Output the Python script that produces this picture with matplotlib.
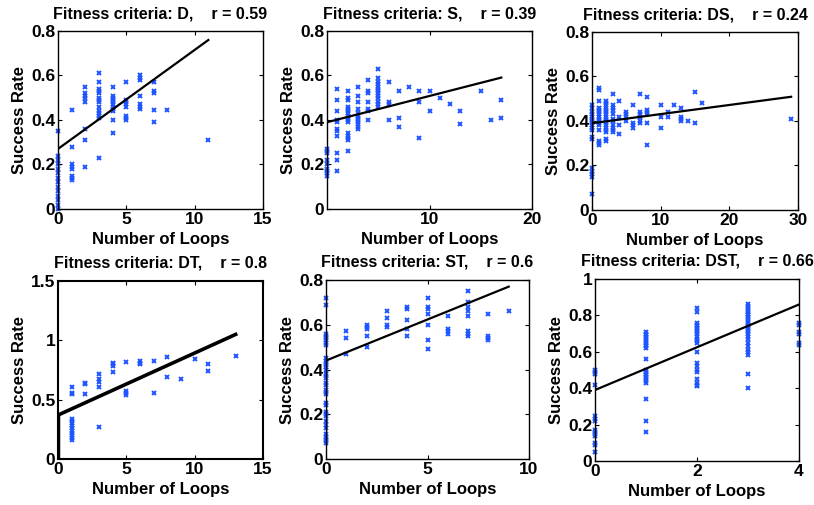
import numpy as np
import matplotlib
matplotlib.use("Agg")
import matplotlib.pyplot as plt
from matplotlib.ticker import FuncFormatter

plt.rcParams['font.family'] = ['Liberation Sans', 'DejaVu Sans']
plt.rcParams['font.weight'] = 'bold'

# ---- data (loops, success rate) ----
# D, r = 0.59
d_x = [0]*14 + [1]*8 + [2]*8 + [3]*14 + [4]*11 + [5]*8 + [6]*7 + [7]*5 + [8, 11]
d_y = [0.0, 0.02, 0.04, 0.06, 0.08, 0.10, 0.12, 0.14, 0.16, 0.18, 0.20, 0.22, 0.24, 0.35,
       0.445, 0.28, 0.20, 0.19, 0.18, 0.15, 0.14, 0.13,
       0.55, 0.52, 0.51, 0.50, 0.48, 0.36, 0.31, 0.19,
       0.61, 0.57, 0.54, 0.53, 0.52, 0.50, 0.49, 0.48, 0.46, 0.44, 0.43, 0.42, 0.41, 0.23,
       0.55, 0.51, 0.50, 0.49, 0.48, 0.47, 0.46, 0.45, 0.44, 0.40, 0.34,
       0.57, 0.49, 0.48, 0.47, 0.46, 0.42, 0.41, 0.40,
       0.60, 0.59, 0.58, 0.51, 0.47, 0.46, 0.45,
       0.57, 0.53, 0.52, 0.445, 0.39,
       0.445, 0.31]
d_fit = (0.27, 0.0445)

# S, r = 0.39
s_x = ([0]*9 + [1]*11 + [2]*16 + [3]*12 + [4]*7 + [5]*13 + [6]*4 + [7]*3 + [8] + [9]*3
       + [10]*2 + [11, 12] + [13]*2 + [15, 16] + [17]*2)
s_y = [0.27, 0.26, 0.25, 0.22, 0.20, 0.18, 0.17, 0.16, 0.15,
       0.54, 0.49, 0.44, 0.40, 0.39, 0.36, 0.35, 0.33, 0.25, 0.22, 0.17,
       0.53, 0.50, 0.49, 0.46, 0.45, 0.44, 0.43, 0.42, 0.41, 0.40, 0.39, 0.34, 0.33, 0.32, 0.31, 0.26,
       0.55, 0.51, 0.48, 0.45, 0.43, 0.42, 0.41, 0.40, 0.39, 0.38, 0.37, 0.36,
       0.58, 0.53, 0.52, 0.48, 0.45, 0.44, 0.40,
       0.63, 0.59, 0.57, 0.56, 0.55, 0.54, 0.53, 0.52, 0.51, 0.50, 0.48, 0.47, 0.46,
       0.57, 0.48, 0.47, 0.40,
       0.53, 0.41, 0.37,
       0.55,
       0.53, 0.48, 0.32,
       0.53, 0.44,
       0.50, 0.47,
       0.44, 0.38,
       0.53, 0.40,
       0.49, 0.41]
s_fit = (0.39, 0.0118)

# DS, r = 0.24
ds_x = ([0]*18 + [1]*16 + [2]*17 + [3]*11 + [4]*4 + [5]*4 + [6]*4 + [7]*6 + [8]*6
        + [10]*3 + [11]*2 + [12] + [13]*4 + [14] + [15]*2 + [16, 29])
ds_y = [0.47, 0.46, 0.44, 0.43, 0.42, 0.41, 0.40, 0.39, 0.38, 0.37, 0.36, 0.33, 0.32, 0.19, 0.17, 0.16, 0.15, 0.07,
        0.55, 0.54, 0.49, 0.46, 0.45, 0.44, 0.43, 0.42, 0.41, 0.40, 0.39, 0.38, 0.36, 0.31, 0.30, 0.29,
        0.49, 0.48, 0.47, 0.46, 0.45, 0.44, 0.43, 0.42, 0.41, 0.40, 0.39, 0.38, 0.37, 0.36, 0.35, 0.32, 0.31,
        0.52, 0.47, 0.46, 0.45, 0.43, 0.41, 0.40, 0.38, 0.37, 0.36, 0.35,
        0.49, 0.42, 0.38, 0.34,
        0.44, 0.43, 0.42, 0.40,
        0.47, 0.39, 0.38, 0.37,
        0.52, 0.44, 0.43, 0.42, 0.40, 0.39,
        0.51, 0.45, 0.44, 0.43, 0.39, 0.29,
        0.47, 0.42, 0.37,
        0.44, 0.42,
        0.47,
        0.46, 0.42, 0.41, 0.40,
        0.40,
        0.53, 0.39,
        0.48, 0.41]
ds_fit = (0.39, 0.0041)

# DT, r = 0.8
dt_x = [1]*13 + [2]*3 + [3]*5 + [4]*4 + [5]*4 + [6]*3 + [7]*2 + [8]*2 + [9, 10] + [11]*2 + [13]
dt_y = [0.61, 0.56, 0.55, 0.34, 0.32, 0.30, 0.28, 0.26, 0.24, 0.22, 0.20, 0.18, 0.16,
        0.64, 0.63, 0.55,
        0.72, 0.67, 0.65, 0.61, 0.27,
        0.81, 0.80, 0.78, 0.73,
        0.82, 0.57, 0.56, 0.54,
        0.83, 0.81, 0.80,
        0.83, 0.56,
        0.86, 0.69,
        0.67, 0.84,
        0.80, 0.74,
        0.87]
dt_fit = (0.37, 0.0523)

# ST, r = 0.6
st_x = [0]*35 + [1]*3 + [2]*5 + [3]*4 + [4]*5 + [5]*7 + [6]*4 + [7]*8 + [8]*4 + [9]
st_y = [0.72, 0.69, 0.56, 0.55, 0.54, 0.53, 0.52, 0.51, 0.45, 0.44, 0.43, 0.42, 0.41, 0.40,
        0.38, 0.37, 0.36, 0.34, 0.33, 0.31, 0.30, 0.29, 0.25, 0.24, 0.21, 0.20, 0.19, 0.17,
        0.15, 0.14, 0.11, 0.10, 0.09, 0.08, 0.07,
        0.57, 0.54, 0.47,
        0.60, 0.59, 0.58, 0.55, 0.50,
        0.66, 0.63, 0.60, 0.59,
        0.68, 0.67, 0.62, 0.58, 0.55,
        0.72, 0.68, 0.67, 0.65, 0.60, 0.53, 0.49,
        0.64, 0.58, 0.57, 0.56,
        0.75, 0.70, 0.68, 0.66, 0.64, 0.57, 0.56, 0.55,
        0.65, 0.55, 0.54, 0.53,
        0.66]
st_fit = (0.44, 0.0367)

# DST, r = 0.66
dst_x = [0]*14 + [1]*22 + [2]*22 + [3]*26 + [4]*6
dst_y = [0.50, 0.49, 0.48, 0.42, 0.25, 0.23, 0.22, 0.17, 0.16, 0.15, 0.14, 0.10, 0.09, 0.05,
         0.71, 0.70, 0.69, 0.68, 0.67, 0.66, 0.65, 0.64, 0.63, 0.62, 0.56, 0.50, 0.49, 0.48,
         0.47, 0.46, 0.45, 0.44, 0.43, 0.34, 0.22, 0.16,
         0.84, 0.82, 0.76, 0.75, 0.74, 0.73, 0.72, 0.71, 0.70, 0.68, 0.67, 0.66, 0.65, 0.60,
         0.54, 0.52, 0.50, 0.49, 0.45, 0.43, 0.42, 0.41,
         0.86, 0.85, 0.84, 0.83, 0.82, 0.81, 0.80, 0.79, 0.78, 0.77, 0.76, 0.75, 0.74, 0.73,
         0.72, 0.71, 0.70, 0.68, 0.67, 0.65, 0.63, 0.61, 0.60, 0.58, 0.48, 0.40,
         0.76, 0.75, 0.71, 0.70, 0.65, 0.64]
dst_fit = (0.39, 0.1175)

titles = ["Fitness criteria: D,    r = 0.59", "Fitness criteria: S,    r = 0.39",
          "Fitness criteria: DS,    r = 0.24", "Fitness criteria: DT,    r = 0.8",
          "Fitness criteria: ST,    r = 0.6", "Fitness criteria: DST,    r = 0.66"]

panels = [
    (d_x, d_y, d_fit, (0, 15), [0, 5, 10, 15], (0, 0.8), [0, 0.2, 0.4, 0.6, 0.8]),
    (s_x, s_y, s_fit, (0, 20), [10, 20], (0, 0.8), [0, 0.2, 0.4, 0.6, 0.8]),
    (ds_x, ds_y, ds_fit, (0, 30), [0, 10, 20, 30], (0, 0.8), [0, 0.2, 0.4, 0.6, 0.8]),
    (dt_x, dt_y, dt_fit, (0, 15), [0, 5, 10, 15], (0, 1.5), [0, 0.5, 1, 1.5]),
    (st_x, st_y, st_fit, (0, 10), [0, 5, 10], (0, 0.8), [0, 0.2, 0.4, 0.6, 0.8]),
    (dst_x, dst_y, dst_fit, (0, 4), [0, 2, 4], (0, 1), [0, 0.2, 0.4, 0.6, 0.8, 1]),
]

W, H = 814, 505
# axes boxes in pixels: left, top, right, bottom
boxes = [(58, 31, 263, 209), (327, 31, 532, 209), (592, 32, 798, 210),
         (58, 281, 263, 459), (326, 280, 529, 459), (595, 279, 799, 461)]

fig = plt.figure(figsize=(W / 100, H / 100), dpi=100)
blue = '#1f55ff'
fmt = FuncFormatter(lambda v, p: '%g' % v)

for i, (x, y, fit, xl, xt, yl, yt) in enumerate(panels):
    l, t, r, b = boxes[i]
    ax = fig.add_axes([l / W, 1 - b / H, (r - l) / W, (b - t) / H])
    ax.plot(x, y, 'x', color=blue, ms=3.5, mew=1.4, clip_on=False)
    a, k = fit
    xmax = max(x)
    lw = 1.6
    if i == 3:
        lw = 2.6
        ax.plot([0, 0], [0, a], color='black', lw=2.5, solid_capstyle='butt')
    ax.plot([0, xmax], [a, a + k * xmax], color='black', lw=lw)
    ax.set_xlim(*xl)
    ax.set_ylim(*yl)
    ax.set_xticks(xt)
    ax.set_yticks(yt)
    ax.xaxis.set_major_formatter(fmt)
    ax.yaxis.set_major_formatter(fmt)
    ax.tick_params(direction='in', top=True, right=True, length=3, width=0.8,
                   labelsize=12.5, pad=2)
    for lab in ax.get_xticklabels() + ax.get_yticklabels():
        lab.set_fontweight('bold')
    for sp in ax.spines.values():
        sp.set_linewidth(1.5 if i == 3 else 1.0)
    ax.set_title(titles[i], fontsize=11.5, fontweight='bold', pad=9 if i < 3 else 10)
    ax.set_xlabel('Number of Loops', fontsize=12, fontweight='bold', labelpad=4)
    ax.set_ylabel('Success Rate', fontsize=12, fontweight='bold', labelpad=3)

fig.savefig('out.png', dpi=100)
